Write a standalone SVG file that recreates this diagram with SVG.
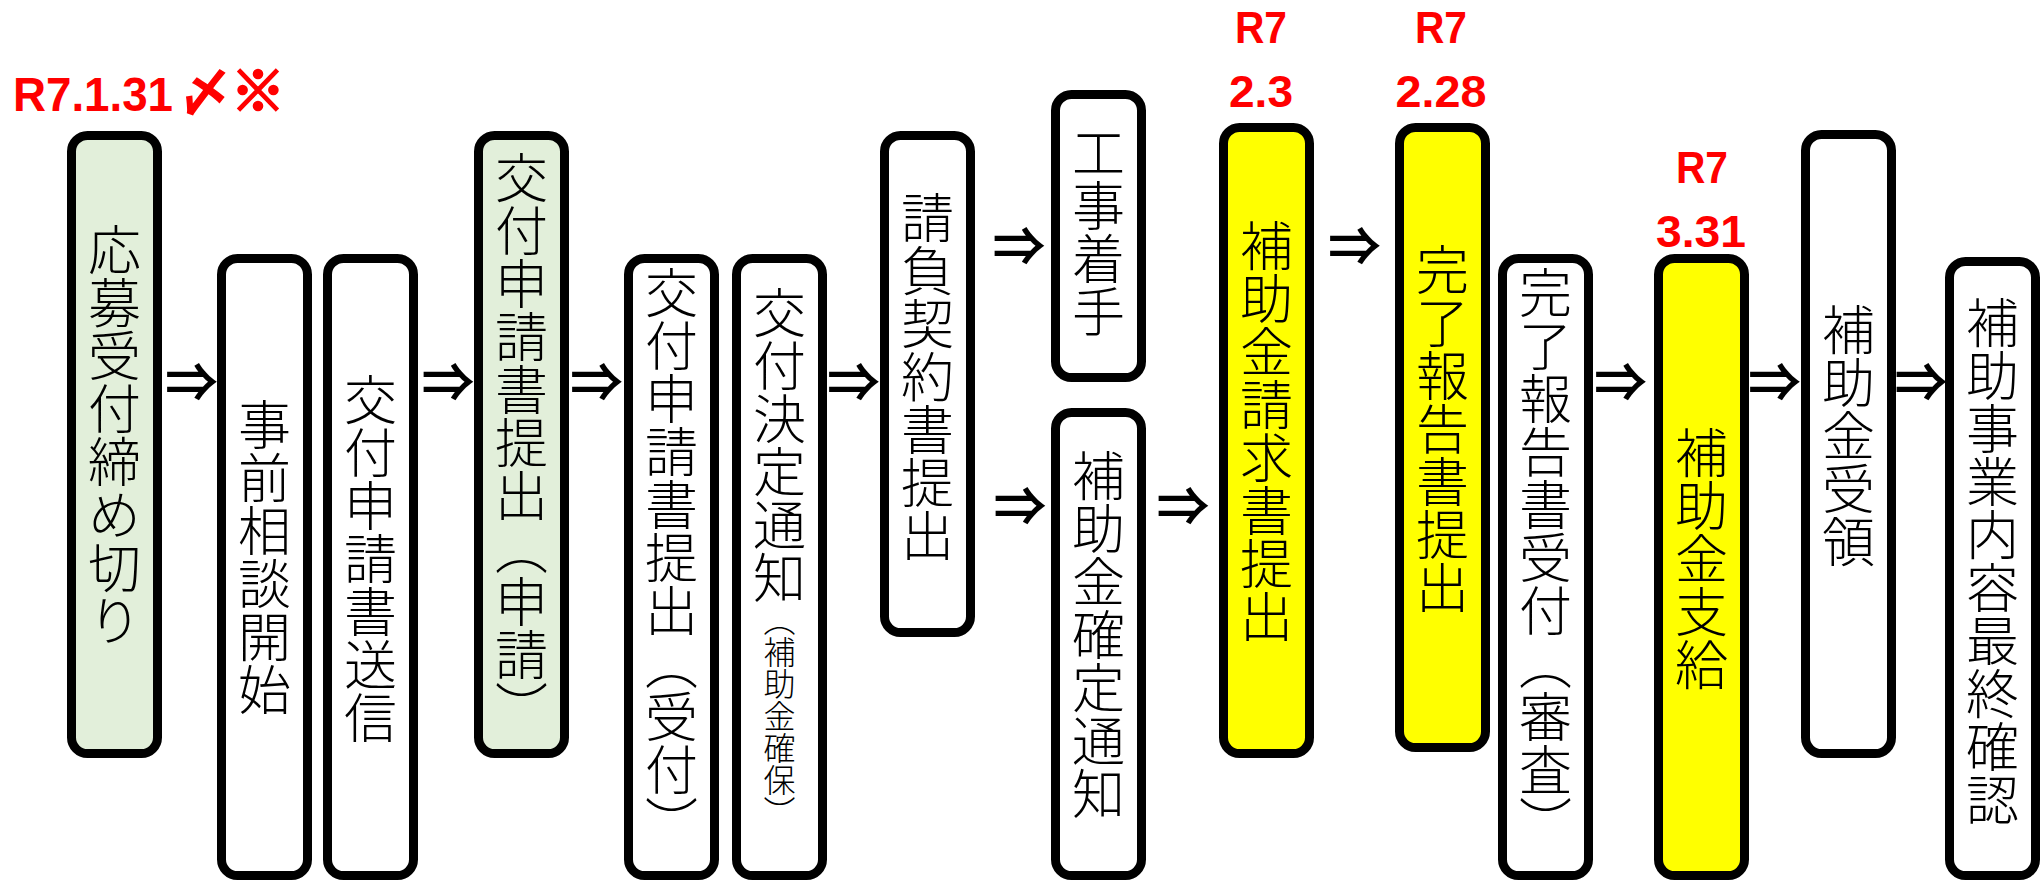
<svg xmlns="http://www.w3.org/2000/svg" width="2040" height="882" viewBox="0 0 2040 882">
<style>
.box{stroke:#000;stroke-width:9;fill:#fff}
.g{fill:#E2EFDA}
.y{fill:#FFFF00}
.t{font-family:"Noto Sans CJK JP","Noto Sans CJK SC",sans-serif;font-weight:300;font-size:53px;fill:#000;writing-mode:vertical-rl}
.s{font-size:32px}
.arr{font-family:"Noto Sans CJK JP","Noto Sans CJK SC",sans-serif;font-weight:bold;font-size:53px;fill:#000;text-anchor:middle}
.red{font-family:"Liberation Sans",Arial,sans-serif;font-weight:bold;font-size:45px;fill:#FF0000;text-anchor:middle}
</style>
<rect width="2040" height="882" fill="#fff"/>
<g id="labels">
<text x="13" y="111" font-family="'Liberation Sans',Arial,sans-serif" font-weight="bold" font-size="48" fill="#FF0000" textLength="160" lengthAdjust="spacingAndGlyphs">R7.1.31</text>
<text x="179" y="111" font-family="'Noto Sans CJK JP',sans-serif" font-weight="bold" font-size="52" fill="#FF0000">〆<tspan stroke="#FF0000" stroke-width="2.5" font-size="54">※</tspan></text>
<text class="red" x="1261" y="43" textLength="52" lengthAdjust="spacingAndGlyphs">R7</text>
<text class="red" x="1261" y="107" textLength="64" lengthAdjust="spacingAndGlyphs">2.3</text>
<text class="red" x="1441" y="43" textLength="52" lengthAdjust="spacingAndGlyphs">R7</text>
<text class="red" x="1441" y="107" textLength="91" lengthAdjust="spacingAndGlyphs">2.28</text>
<text class="red" x="1702" y="183" textLength="52" lengthAdjust="spacingAndGlyphs">R7</text>
<text class="red" x="1701" y="247" textLength="90" lengthAdjust="spacingAndGlyphs">3.31</text>
</g>
<g id="n1"><rect class="box g" x="71.5" y="135.5" width="86" height="618" rx="16"/><text class="t" x="114.5" y="223">応募受付締め切り</text></g>
<g id="n2"><rect class="box" x="221.5" y="258.5" width="86" height="617" rx="16"/><text class="t" x="264.5" y="398">事前相談開始</text></g>
<g id="n3"><rect class="box" x="327.5" y="258.5" width="86" height="617" rx="16"/><text class="t" x="370.5" y="373">交付申請書送信</text></g>
<g id="n4"><rect class="box g" x="478.5" y="135.5" width="86" height="618" rx="16"/><text class="t" x="521.5" y="151">交付申請書提出（申請）</text></g>
<g id="n5"><rect class="box" x="628.5" y="258.5" width="86" height="617" rx="16"/><text class="t" x="671.5" y="266">交付申請書提出（受付）</text></g>
<g id="n6"><rect class="box" x="736.5" y="258.5" width="86" height="617" rx="16"/><text class="t" x="779.5" y="286">交付決定通知<tspan class="s">（補助金確保）</tspan></text></g>
<g id="n7"><rect class="box" x="884.5" y="135.5" width="86" height="497" rx="16"/><text class="t" x="927.5" y="191">請負契約書提出</text></g>
<g id="n8"><rect class="box" x="1055.5" y="94.5" width="86" height="283" rx="16"/><text class="t" x="1098.5" y="126">工事着手</text></g>
<g id="n9"><rect class="box" x="1055.5" y="412.5" width="86" height="463" rx="16"/><text class="t" x="1098.5" y="449">補助金確定通知</text></g>
<g id="n10"><rect class="box y" x="1223.5" y="127.5" width="86" height="626" rx="16"/><text class="t" x="1266.5" y="219">補助金請求書提出</text></g>
<g id="n11"><rect class="box y" x="1399.5" y="127.5" width="86" height="620" rx="16"/><text class="t" x="1442.5" y="243">完了報告書提出</text></g>
<g id="n12"><rect class="box" x="1502.5" y="258.5" width="86" height="617" rx="16"/><text class="t" x="1545.5" y="266">完了報告書受付（審査）</text></g>
<g id="n13"><rect class="box y" x="1658.5" y="258.5" width="86" height="617" rx="16"/><text class="t" x="1701.5" y="426">補助金支給</text></g>
<g id="n14"><rect class="box" x="1805.5" y="134.5" width="86" height="619" rx="16"/><text class="t" x="1848.5" y="303">補助金受領</text></g>
<g id="n15"><rect class="box" x="1949.5" y="261.5" width="86" height="614" rx="16"/><text class="t" x="1992.5" y="296">補助事業内容最終確認</text></g>
<g id="connectors">
<text class="arr" x="191.5" y="402">⇒</text>
<text class="arr" x="448" y="402">⇒</text>
<text class="arr" x="596.5" y="402">⇒</text>
<text class="arr" x="853.5" y="402">⇒</text>
<text class="arr" x="1019" y="266">⇒</text>
<text class="arr" x="1020" y="526">⇒</text>
<text class="arr" x="1354.5" y="266">⇒</text>
<text class="arr" x="1183" y="526">⇒</text>
<text class="arr" x="1620.5" y="402">⇒</text>
<text class="arr" x="1774.5" y="402">⇒</text>
<text class="arr" x="1921" y="402">⇒</text>
</g>
</svg>
